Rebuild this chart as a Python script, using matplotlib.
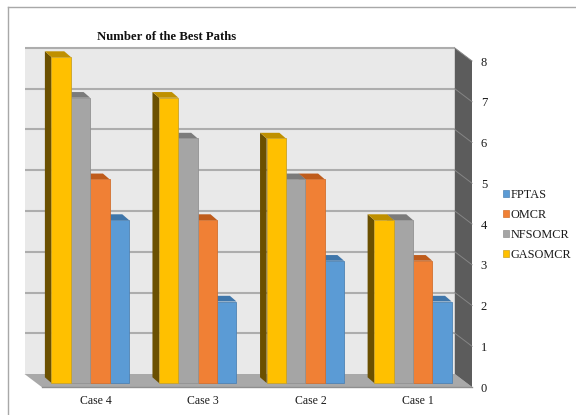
import matplotlib
matplotlib.use("Agg")
import matplotlib.pyplot as plt
from matplotlib.lines import Line2D
from matplotlib.patches import Polygon, Patch

plt.rcParams['font.family'] = ['Liberation Serif', 'DejaVu Serif']

cases = ["Case 4", "Case 3", "Case 2", "Case 1"]
gasomcr = [8, 7, 6, 4]
nfsomcr = [7, 6, 5, 4]
omcr = [5, 4, 5, 3]
fptas = [4, 2, 3, 2]
y_ticks = [0, 1, 2, 3, 4, 5, 6, 7, 8]

W, H = 576, 415
fig = plt.figure(figsize=(W / 100, H / 100), dpi=100, facecolor="white")

# Axes span the front plane of the 3-D box, in pixels
left, right, top, bottom = 41.7, 472.0, 61.0, 387.0
ax = fig.add_axes([left / W, 1 - bottom / H, (right - left) / W, (bottom - top) / H])
ax.set_xlim(-0.5, 3.5)
ax.set_ylim(0, 8)
ax.patch.set_alpha(0)
for s in ax.spines.values():
    s.set_visible(False)

px_x = 4 / (right - left)
px_y = 8 / (bottom - top)

# Box depth and bar depth
box_dx, box_dy = -17.2 * px_x, 13 * px_y
bar_dx, bar_dy = -6.6 * px_x, 5.7 * px_y
x0, x1 = -0.5, 3.5


def poly(points, color, z, edge="none", lw=0.0):
    ax.add_patch(Polygon(points, closed=True, facecolor=color, edgecolor=edge,
                         linewidth=lw, zorder=z, clip_on=False))


# Back wall, floor and side wall
poly([(x0 + box_dx, box_dy), (x1 + box_dx, box_dy),
      (x1 + box_dx, 8 + box_dy), (x0 + box_dx, 8 + box_dy)], "#e9e9e9", 1)
poly([(x0 + box_dx, box_dy), (x1 + box_dx, box_dy), (x1, 0), (x0, 0)],
     "#a9a9a9", 2)
poly([(x1 + box_dx, box_dy), (x1, 0), (x1, 8), (x1 + box_dx, 8 + box_dy)],
     "#5c5c5c", 2)
for v in y_ticks[1:]:
    ax.plot([x0 + box_dx, x1 + box_dx], [v + box_dy] * 2, color="#adadad",
            lw=1.5, zorder=3, clip_on=False, solid_capstyle="butt")
    ax.plot([x1 + box_dx, x1], [v + box_dy, v], color="#858585",
            lw=0.7, zorder=3, clip_on=False)
ax.plot([x0, x1], [0, 0], color="#8f8f8f", lw=1.0, zorder=3, clip_on=False)

# Clustered bars, right-most series first so each covers its neighbour's side
series = [
    ("FPTAS", fptas, "#5b9bd5", "#3f76aa", "#3c6c99", "#4f83b4"),
    ("OMCR", omcr, "#f08035", "#bf5c1c", "#a9521a", "#d2702f"),
    ("NFSOMCR", nfsomcr, "#a5a5a5", "#7b7b7b", "#686868", "#929292"),
    ("GASOMCR", gasomcr, "#ffc000", "#bf9000", "#6b5000", "#c9a227"),
]
bar_w = 19.35 * px_x
group_shift = -5.3 * px_x
lift = 4 * px_y
handles = []
for k, (name, vals, face, top_c, side_c, edge_c) in enumerate(series):
    offset = (1.5 - k) * bar_w + group_shift
    z = 10 + k
    for i, v in enumerate(vals):
        xa = i + offset - bar_w / 2
        xb = xa + bar_w
        poly([(xa, lift), (xa + bar_dx, lift + bar_dy),
              (xa + bar_dx, lift + v + bar_dy), (xa, lift + v)], side_c, z)
        poly([(xa, lift + v), (xa + bar_dx, lift + v + bar_dy),
              (xb + bar_dx, lift + v + bar_dy), (xb, lift + v)], top_c, z)
    ax.bar([i + offset for i in range(len(vals))], vals, width=bar_w, bottom=lift,
           color=face, edgecolor=edge_c, linewidth=0.6, zorder=z + 0.5, clip_on=False)
    handles.append(Patch(facecolor=face, edgecolor=edge_c, linewidth=0.5, label=name))

ax.set_xticks(range(len(cases)))
ax.set_xticklabels(cases, fontsize=8.5, color="#1a1a1a")
ax.yaxis.tick_right()
ax.set_yticks(y_ticks)
ax.set_yticklabels([str(v) for v in y_ticks], fontsize=9, color="#1a1a1a")
ax.tick_params(axis="x", length=0, pad=5.5)
ax.tick_params(axis="y", length=0, pad=6.3)

fig.text(167 / W, 1 - 36.5 / H, "Number of the Best Paths", fontsize=9.2,
         fontweight="bold", ha="center", va="center", color="#111111")

fig.legend(handles=handles, loc="center left",
           bbox_to_anchor=(503 / W, 1 - 225 / H), frameon=False, fontsize=8.8,
           handlelength=0.49, handleheight=0.49, handletextpad=0.12,
           labelspacing=0.66, borderpad=0, borderaxespad=0, labelcolor="#1a1a1a")

# Outer chart frame
frame = "#a8a8a8"
fig.add_artist(Line2D([8.3 / W, 8.3 / W], [0, 1 - 7.3 / H], color=frame, lw=1.0))
fig.add_artist(Line2D([8.3 / W, 1], [1 - 7.3 / H, 1 - 7.3 / H], color=frame, lw=1.0))

fig.savefig("out.png", dpi=100)
